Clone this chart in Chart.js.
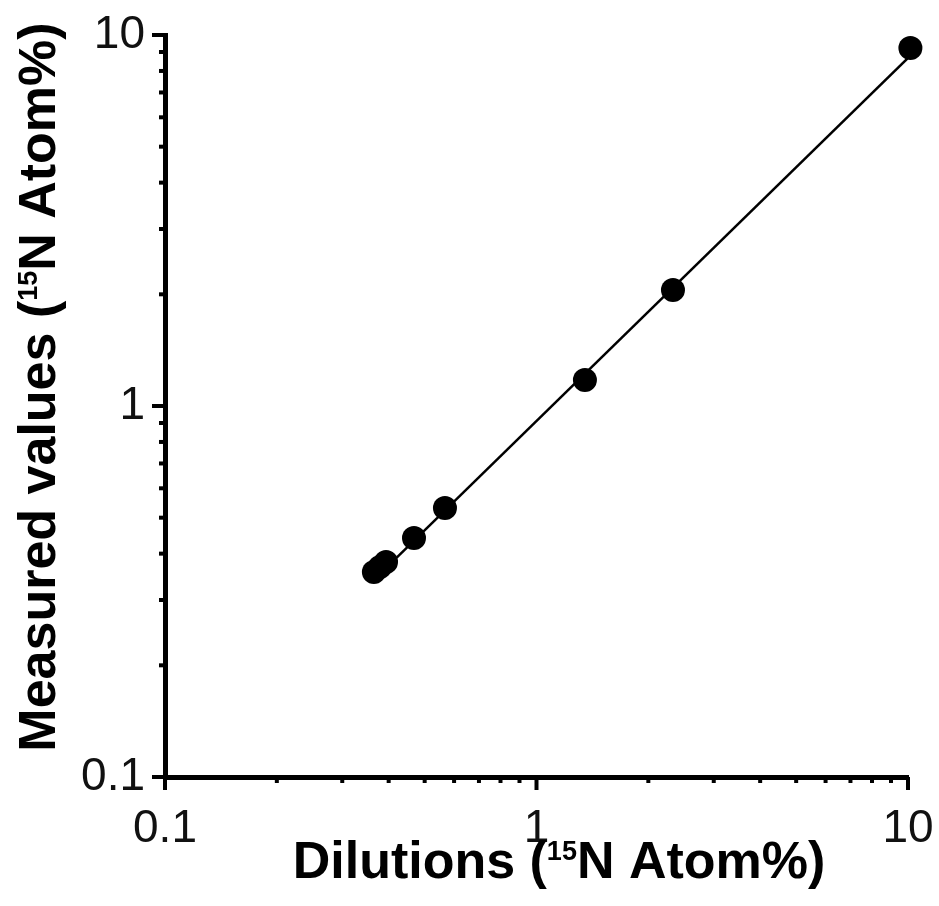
<!DOCTYPE html>
<html>
<head>
<meta charset="utf-8">
<script src="https://cdn.jsdelivr.net/npm/chart.js@4/dist/chart.umd.min.js"></script>
<style>
  body { margin: 0; background: #fff; }
  #wrap { width: 939px; height: 906px; position: relative; }
</style>
</head>
<body>
<div id="wrap"><canvas id="dilutionChart"></canvas></div>
<script>
// measured points (15N atom%)
const dilutions = [0.365, 0.379, 0.3935, 0.468, 0.567, 1.35, 2.33, 10.15];
const measured = [0.357, 0.368, 0.380, 0.441, 0.531, 1.175, 2.055, 9.22];

// fitted line endpoints
const fitX = [0.365, 10.15];
const fitY = [0.340, 8.8];

const tickValues = [0.1, 1, 10];
const tickLabels = ["0.1", "1", "10"];

const xTitleParts = [
  { text: "Dilutions (", sup: false },
  { text: "15", sup: true },
  { text: "N Atom%)", sup: false }
];
const yTitleParts = [
  { text: "Measured values (", sup: false },
  { text: "15", sup: true },
  { text: "N Atom%)", sup: false }
];

const TITLE_FONT = "bold 52px 'Liberation Sans', Arial, sans-serif";
const SUP_FONT = "bold 27px 'Liberation Sans', Arial, sans-serif";

function richWidth(ctx, parts) {
  let w = 0;
  parts.forEach(p => {
    ctx.font = p.sup ? SUP_FONT : TITLE_FONT;
    w += ctx.measureText(p.text).width;
  });
  return w;
}

function drawRich(ctx, parts, x, y) {
  let cx = x;
  parts.forEach(p => {
    ctx.font = p.sup ? SUP_FONT : TITLE_FONT;
    ctx.fillText(p.text, cx, p.sup ? y - 18 : y);
    cx += ctx.measureText(p.text).width;
  });
}

// minor/major tick marks and axis titles
const axisDecor = {
  id: "axisDecor",
  afterDraw(chart) {
    const ctx = chart.ctx;
    const xs = chart.scales.x;
    const ys = chart.scales.y;
    const area = chart.chartArea;
    const values = [];
    [0.1, 1].forEach(d => {
      for (let m = 1; m <= 9; m++) values.push({ v: m * d, major: m === 1 });
    });
    values.push({ v: 10, major: true });

    ctx.save();
    ctx.strokeStyle = "#000";
    ctx.lineWidth = 4;
    values.forEach(t => {
      const len = t.major ? 13 : 6;
      const px = xs.getPixelForValue(t.v);
      ctx.beginPath();
      ctx.moveTo(px, area.bottom);
      ctx.lineTo(px, area.bottom + len);
      ctx.stroke();
      const py = ys.getPixelForValue(t.v);
      ctx.beginPath();
      ctx.moveTo(area.left, py);
      ctx.lineTo(area.left - len, py);
      ctx.stroke();
    });

    ctx.fillStyle = "#000";
    ctx.textBaseline = "alphabetic";
    ctx.textAlign = "left";
    const xw = richWidth(ctx, xTitleParts);
    drawRich(ctx, xTitleParts, 559 - xw / 2, 878);

    const yw = richWidth(ctx, yTitleParts);
    ctx.translate(55, 387);
    ctx.rotate(-Math.PI / 2);
    drawRich(ctx, yTitleParts, -yw / 2, 0);
    ctx.restore();
  }
};

const tickFont = { family: "'Liberation Sans', Arial, sans-serif", size: 46 };

function fixTicks(scale) {
  scale.ticks = tickValues.map(v => ({ value: v }));
}

function noPadding(scale) {
  scale.paddingTop = 0;
  scale.paddingBottom = 0;
  scale.paddingLeft = 0;
  scale.paddingRight = 0;
}

new Chart(document.getElementById("dilutionChart"), {
  type: "scatter",
  data: {
    datasets: [
      {
        data: fitX.map((x, i) => ({ x: x, y: fitY[i] })),
        showLine: true,
        borderColor: "#000",
        borderWidth: 2.5,
        pointRadius: 0,
        order: 2
      },
      {
        data: dilutions.map((x, i) => ({ x: x, y: measured[i] })),
        backgroundColor: "#000",
        borderWidth: 0,
        pointRadius: 12,
        clip: false,
        order: 1
      }
    ]
  },
  options: {
    responsive: true,
    maintainAspectRatio: false,
    animation: false,
    layout: { padding: { left: 0, right: 31, top: 35, bottom: 0 } },
    plugins: { legend: { display: false }, tooltip: { enabled: false } },
    scales: {
      x: {
        type: "logarithmic",
        min: 0.1,
        max: 10,
        grid: { display: false, drawTicks: false },
        border: { display: true, color: "#000", width: 5 },
        afterBuildTicks: fixTicks,
        afterFit(scale) { scale.height = 129; noPadding(scale); },
        ticks: {
          color: "#111",
          font: tickFont,
          padding: 25,
          maxRotation: 0,
          autoSkip: false,
          callback: (v, i) => tickLabels[tickValues.indexOf(v)]
        }
      },
      y: {
        type: "logarithmic",
        min: 0.1,
        max: 10,
        grid: { display: false, drawTicks: false },
        border: { display: true, color: "#000", width: 5 },
        afterBuildTicks: fixTicks,
        afterFit(scale) { scale.width = 165; noPadding(scale); },
        ticks: {
          color: "#111",
          font: tickFont,
          padding: 20,
          autoSkip: false,
          callback: (v, i) => tickLabels[tickValues.indexOf(v)]
        }
      }
    }
  },
  plugins: [axisDecor]
});
</script>
</body>
</html>
